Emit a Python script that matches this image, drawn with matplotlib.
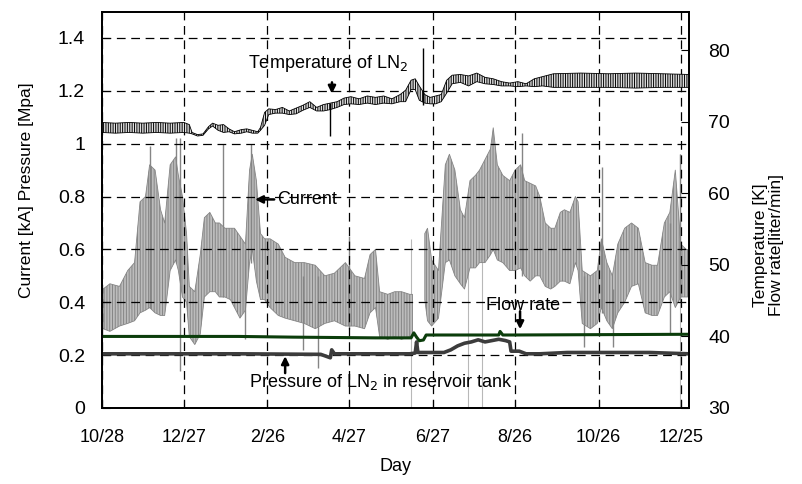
import numpy as np
import matplotlib.pyplot as plt

plt.rcParams['font.family'] = ['Liberation Sans', 'DejaVu Sans']
plt.rcParams['hatch.linewidth'] = 0.7

# x axis: days since 10/28
tick_days = [0, 60, 121, 181, 242, 302, 363, 423]
tick_labels = ["10/28", "12/27", "2/26", "4/27", "6/27", "8/26", "10/26", "12/25"]

# current [kA], envelope of the daily swing
cur_day = [1, 6, 13, 19, 24, 28, 32, 35, 39, 43, 46, 50, 54, 56, 59, 62, 64, 68, 72, 75,
           79, 83, 86, 90, 94, 97, 101, 105, 108, 110, 113, 116, 119, 123, 129, 134, 141, 148,
           156, 163, 170, 178, 185, 192, 196, 200, 203, 209, 214, 219, 225, 227, 231,
           236, 238, 241, 246, 251, 254, 258, 262, 265, 269, 273, 276, 280, 284, 286, 289,
           293, 298, 302, 306, 309, 313, 317, 320, 324, 328, 331, 335, 338, 342, 346, 348,
           351, 357, 362, 365, 369, 373, 377, 382, 387, 392, 397, 402, 406, 411, 415, 419,
           423, 427, 429]
cur_hi = [0.45, 0.47, 0.46, 0.52, 0.55, 0.78, 0.80, 0.92, 0.90, 0.75, 0.70, 0.92, 0.95, 0.88,
          0.80, 0.66, 0.46, 0.44, 0.58, 0.72, 0.74, 0.70, 0.70, 0.68, 0.68, 0.68, 0.65, 0.62,
          0.90, 0.96, 0.86, 0.66, 0.64, 0.64, 0.62, 0.57, 0.55, 0.55, 0.54, 0.50, 0.51, 0.55,
          0.50, 0.49, 0.58, 0.60, 0.44, 0.43, 0.44, 0.44, 0.43, 0.43, np.nan,
          0.66, 0.68, 0.56, 0.52, 0.92, 0.96, 0.90, 0.75, 0.72, 0.86, 0.88, 0.90, 0.94, 0.98,
          1.06, 0.92, 0.88, 0.86, 0.90, 0.92, 0.86, 0.85, 0.84, 0.80, 0.70, 0.68, 0.68, 0.74,
          0.75, 0.74, 0.80, 0.78, 0.52, 0.50, 0.52, 0.64, 0.55, 0.50, 0.62, 0.68, 0.70, 0.68,
          0.55, 0.54, 0.54, 0.70, 0.74, 0.90, 0.62, 0.60, 0.60]
cur_lo = [0.30, 0.29, 0.31, 0.32, 0.33, 0.36, 0.37, 0.38, 0.36, 0.35, 0.35, 0.52, 0.56, 0.52,
          0.42, 0.40, 0.27, 0.24, 0.28, 0.42, 0.44, 0.44, 0.42, 0.42, 0.41, 0.38, 0.34, 0.37,
          0.55, 0.60, 0.48, 0.41, 0.41, 0.38, 0.35, 0.34, 0.33, 0.32, 0.30, 0.32, 0.33, 0.31,
          0.31, 0.30, 0.36, 0.38, 0.27, 0.26, 0.27, 0.26, 0.27, 0.27, np.nan,
          0.41, 0.33, 0.31, 0.34, 0.55, 0.56, 0.50, 0.47, 0.45, 0.53, 0.53, 0.55, 0.55, 0.58,
          0.60, 0.56, 0.55, 0.52, 0.52, 0.53, 0.50, 0.48, 0.50, 0.50, 0.46, 0.45, 0.46, 0.48,
          0.48, 0.47, 0.55, 0.52, 0.32, 0.30, 0.32, 0.38, 0.33, 0.30, 0.36, 0.40, 0.46, 0.47,
          0.36, 0.35, 0.35, 0.42, 0.44, 0.38, 0.42, 0.42, 0.42]

# single spikes of the current
spike_day = [35.3, 54.3, 57.3, 88.6, 104.7, 109.0, 147.3, 158.0, 180.6, 307.0, 352.3,
             365.5, 373.5, 415.2, 422.5]
spike_lo = [0.38, 0.55, 0.14, 0.42, 0.26, 0.55, 0.22, 0.15, 0.30, 0.50, 0.23, 0.36, 0.23,
            0.28, 0.40]
spike_hi = [0.99, 1.02, 1.02, 1.00, 0.60, 1.00, 0.50, 0.50, 0.65, 1.04, 0.50, 0.91, 0.45,
            0.70, 0.96]

# current drops to zero (thin light lines)
drop_day = [0.3, 226.0, 267.5, 277.7, 422.5]
drop_hi = [0.40, 0.64, 0.75, 0.80, 0.96]

# temperature of LN2 [K]
temp_day = [0, 10, 20, 30, 40, 50, 60, 64, 66, 70, 74, 78, 81, 85, 89, 93, 97, 102, 106, 110,
            114, 116, 119, 122, 127, 132, 137, 142, 147, 152, 157, 162, 167, 172, 177, 182, 188,
            194, 200, 206, 212, 218, 222, 226, 229, 232, 236, 240, 244, 248, 252, 256, 262,
            268, 274, 280, 286, 292, 298, 304, 310, 316, 322, 330, 350, 370, 390, 410, 429]
temp_hi = [69.9, 69.8, 69.9, 69.8, 69.9, 69.8, 69.9, 69.6, 68.5, 68.2, 68.3, 69.3, 69.8, 69.5,
           69.6, 69.0, 68.6, 68.9, 69.0, 68.8, 68.6, 69.2, 71.3, 71.8, 71.7, 72.0, 71.5, 71.9,
           72.3, 72.8, 72.0, 72.4, 72.6, 72.8, 73.3, 73.5, 73.2, 73.6, 73.4, 73.6, 73.2, 73.8,
           74.4, 75.8, 76.0, 75.0, 73.8, 73.4, 73.6, 73.8, 75.8, 76.5, 76.6, 76.4, 76.8, 76.2,
           76.0, 75.6, 75.4, 75.6, 75.3, 76.0, 76.3, 76.7, 76.8, 76.7, 76.8, 76.7, 76.6]
temp_lo = [68.5, 68.4, 68.5, 68.4, 68.5, 68.4, 68.5, 68.4, 68.3, 68.0, 68.1, 69.0, 69.4, 68.8,
           68.5, 68.6, 68.3, 68.4, 68.6, 68.4, 68.4, 68.8, 69.5, 71.0, 71.2, 71.2, 71.0, 71.1,
           71.6, 72.0, 71.5, 71.5, 71.7, 72.0, 72.4, 72.5, 72.4, 72.6, 72.4, 72.6, 72.5, 72.8,
           72.8, 74.5, 74.5, 73.0, 72.6, 72.5, 72.5, 72.8, 74.0, 75.3, 75.5, 75.0, 75.6, 75.3,
           75.2, 75.0, 75.0, 74.9, 75.0, 74.9, 75.0, 74.8, 74.8, 74.8, 74.7, 74.8, 74.8]

temp_spike_day = [167.0, 234.5]
temp_spike_lo = [68.0, 72.3]
temp_spike_hi = [72.6, 80.3]

# pressure of LN2 in reservoir tank [MPa]
press_day = [0, 60, 100, 160, 167, 168, 170, 225, 229, 230, 231, 250, 255, 260, 265, 270, 275,
             280, 285, 290, 295, 298, 299, 305, 310, 320, 340, 360, 400, 429]
press_val = [0.205, 0.205, 0.205, 0.203, 0.19, 0.22, 0.205, 0.205, 0.208, 0.25, 0.21, 0.21,
             0.22, 0.235, 0.245, 0.25, 0.258, 0.25, 0.255, 0.26, 0.255, 0.25, 0.215, 0.215,
             0.205, 0.205, 0.21, 0.21, 0.21, 0.205]

# flow rate [liter/min]
flow_day = [0, 100, 140, 200, 226, 228, 230, 232, 235, 237, 290, 291, 293, 300, 429]
flow_val = [40.0, 40.0, 39.9, 39.8, 39.8, 40.5, 39.9, 39.4, 39.5, 40.2, 40.2, 40.7, 40.2,
            40.2, 40.3]

X_MAX = 429
L_MAX = 1.5
R_MIN, R_MAX = 30, 85.4

fig = plt.figure(figsize=(8.03, 4.84), dpi=100)
ax = fig.add_axes([101.7 / 803, 76 / 484, (689 - 101.7) / 803, (408 - 11.5) / 484])
ax2 = ax.twinx()

# current
ax.vlines(drop_day, 0, drop_hi, color="#b8b8b8", lw=0.8, zorder=1)
ax.fill_between(cur_day, cur_lo, cur_hi, facecolor="#bcbcbc", edgecolor="#858585",
                hatch="||||||", lw=0.6, zorder=2)
ax.vlines(spike_day, spike_lo, spike_hi, color="#858585", lw=1.0, zorder=2)

# pressure
ax.plot(press_day, press_val, color="#3c3c3c", lw=2.6, zorder=3)

# temperature and flow rate on the right axis
ax2.fill_between(temp_day, temp_lo, temp_hi, facecolor="#e0e0e0", edgecolor="black",
                 hatch="|||||||", lw=0.6)
ax2.vlines(temp_spike_day, temp_spike_lo, temp_spike_hi, color="black", lw=1.0)
ax2.plot(flow_day, flow_val, color="#0b3d0b", lw=2.2)

ax.set_xlim(0, X_MAX)
ax.set_ylim(0, L_MAX)
ax2.set_ylim(R_MIN, R_MAX)

ax.set_xticks(tick_days)
ax.set_xticklabels(tick_labels)
ax.set_yticks([0, 0.2, 0.4, 0.6, 0.8, 1.0, 1.2, 1.4])
ax.set_yticklabels(["0", "0.2", "0.4", "0.6", "0.8", "1", "1.2", "1.4"])
ax2.set_yticks([30, 40, 50, 60, 70, 80])

ax.tick_params(axis="x", direction="in", length=6, labelsize=13, pad=15)
ax.tick_params(axis="y", direction="in", length=6, labelsize=14, pad=12)
ax2.tick_params(axis="y", direction="in", length=6, labelsize=14, pad=14)

ax.grid(True, color="black", ls=(0, (7, 4.5)), lw=0.9)
ax.set_axisbelow(False)
for a in (ax, ax2):
    for s in a.spines.values():
        s.set_linewidth(1.3)

ax.set_xlabel("Day", fontsize=13, labelpad=9)
ax.set_ylabel("Current [kA] Pressure [Mpa]", fontsize=12.5)
ax.yaxis.set_label_coords(-0.115, 0.55)
ax2.set_ylabel("Temperature [K]\nFlow rate[liter/min]", fontsize=12.5, rotation=90,
               va="center", ha="center", linespacing=1.1)
ax2.yaxis.set_label_coords(1.135, 0.41)

arrow = dict(arrowstyle="-|>", color="black", lw=1.8, mutation_scale=11,
             shrinkA=0, shrinkB=0)

ax.text(165.5, 1.302, "Temperature of LN$_2$", fontsize=13, ha="center", va="center")
ax.annotate("", xy=(168.2, 1.189), xytext=(168.2, 1.232), arrowprops=arrow)

ax.text(128.2, 0.789, "Current", fontsize=13, ha="left", va="center")
ax.annotate("", xy=(112.0, 0.789), xytext=(126.0, 0.789), arrowprops=arrow)

ax.text(107.7, 0.098, "Pressure of LN$_2$ in reservoir tank", fontsize=13,
        ha="left", va="center")
ax.annotate("", xy=(134.0, 0.196), xytext=(134.0, 0.132), arrowprops=arrow)

ax.text(280.8, 0.389, "Flow rate", fontsize=13, ha="left", va="center")
ax.annotate("", xy=(305.6, 0.298), xytext=(305.6, 0.366), arrowprops=arrow)

fig.savefig("out.png", dpi=100)
